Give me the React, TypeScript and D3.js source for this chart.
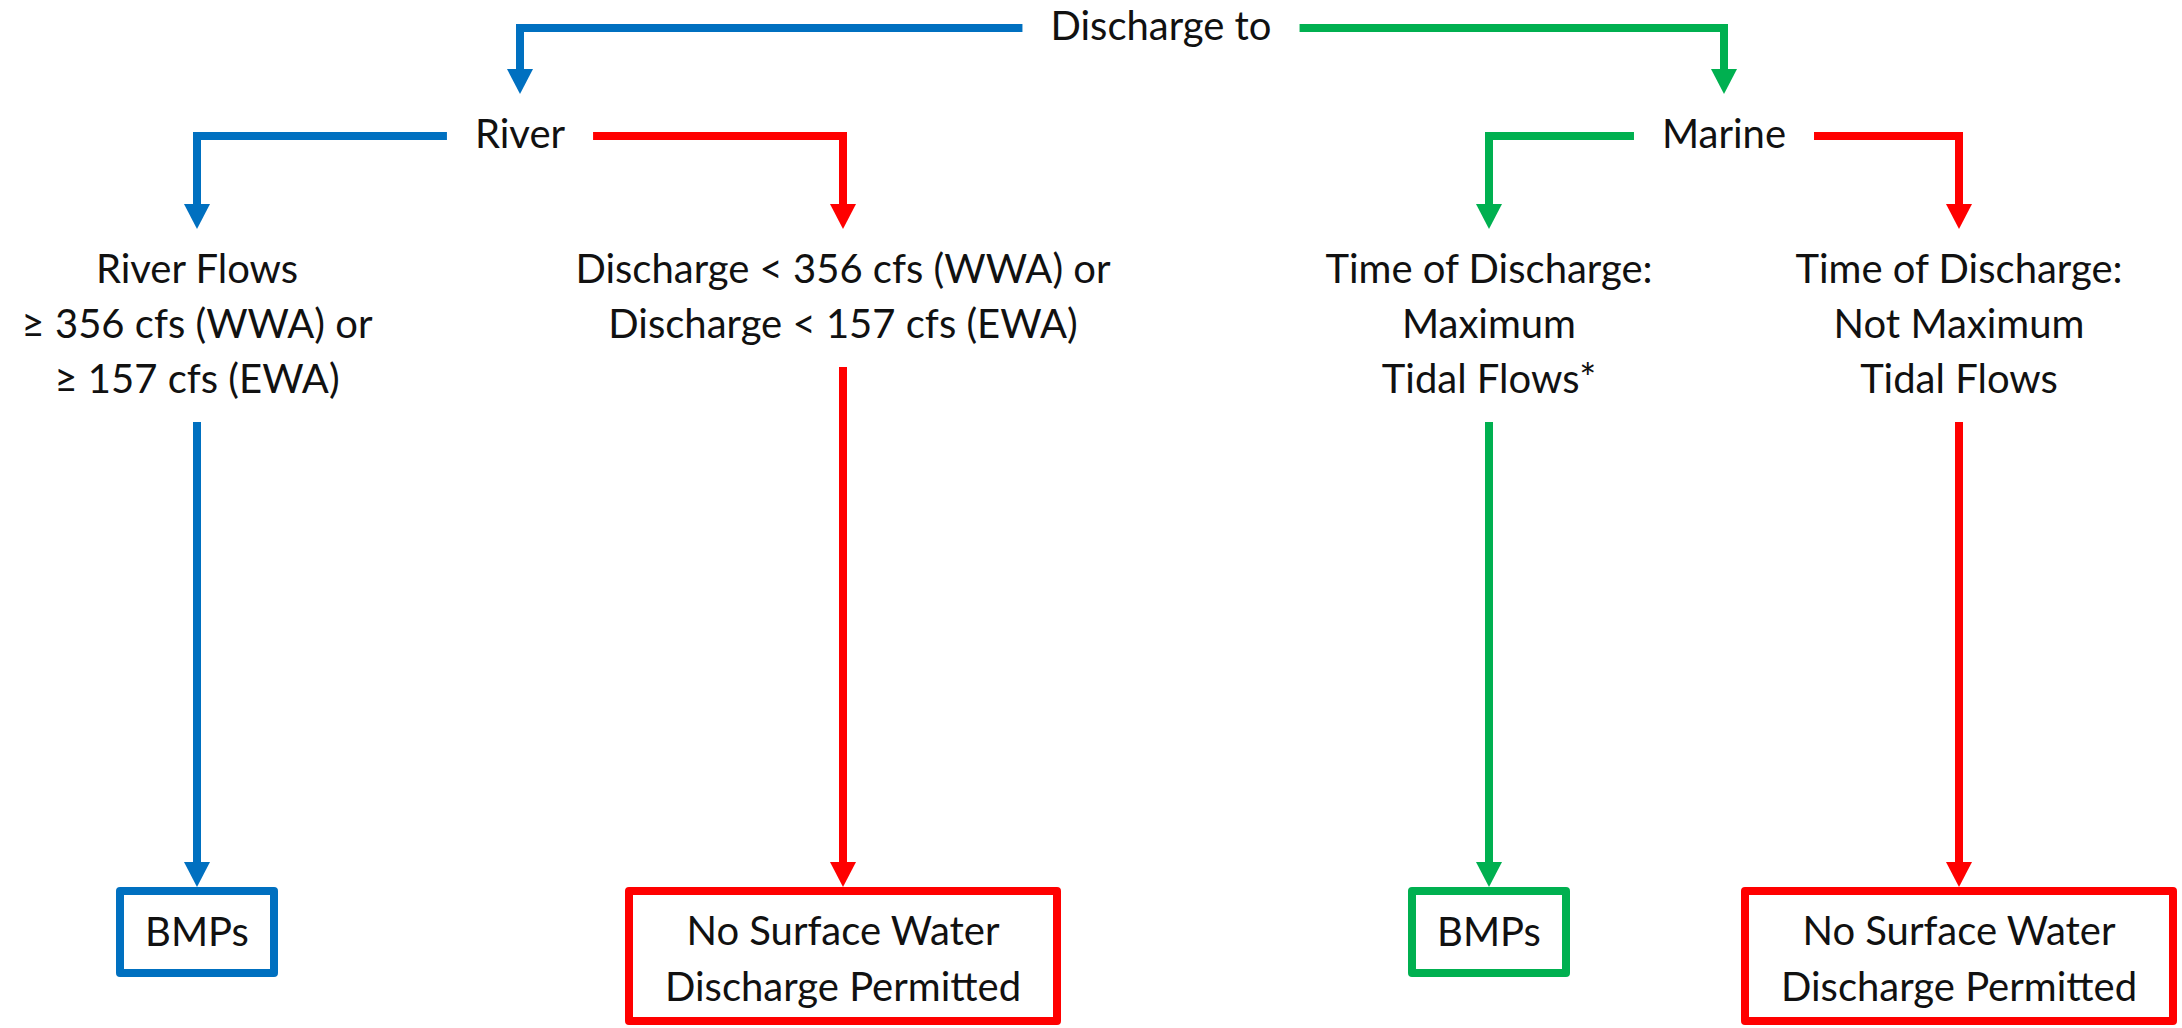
import React, { useEffect, useRef } from "react";
import * as d3 from "d3";

// chart content
const rootLabel = "Discharge to";
const branchLabels = ["River", "Marine"];
const branchColors = ["#0070C0", "#00B050"];
const conditionLabels = [
  ["River Flows", "≥ 356 cfs (WWA) or", "≥ 157 cfs (EWA)"],
  ["Discharge < 356 cfs (WWA) or", "Discharge < 157 cfs (EWA)"],
  ["Time of Discharge:", "Maximum", "Tidal Flows*"],
  ["Time of Discharge:", "Not Maximum", "Tidal Flows"],
];
const conditionParent = [0, 0, 1, 1];
const conditionColors = ["#0070C0", "#FF0000", "#00B050", "#FF0000"];
const outcomeLabels = [
  ["BMPs"],
  ["No Surface Water", "Discharge Permitted"],
  ["BMPs"],
  ["No Surface Water", "Discharge Permitted"],
];

const W = 2182;
const H = 1028;

const App = () => {
  const ref = useRef<SVGSVGElement>(null);

  useEffect(() => {
    const svg = d3.select(ref.current);
    svg.selectAll("*").remove();

    const font = "Lato, 'Open Sans', sans-serif";
    const fs = 40;
    const lh = 55;
    const gap = 28;
    const sw = 8;

    // layout scales
    const colX = d3.scaleOrdinal<number, number>().domain([0, 1, 2, 3]).range([197, 843, 1489, 1959]);
    const rowY = d3.scaleOrdinal<string, number>()
      .domain(["root", "branch", "condition", "outcome"])
      .range([40, 148, 283, 887]);
    const boxW = d3.scaleOrdinal<number, number>().domain([1, 2]).range([162, 436]);
    const boxH = (n: number) => 90 + (n - 1) * 48;

    const branchX = branchLabels.map((_, b) => d3.mean(conditionLabels.map((_, i) => i).filter(i => conditionParent[i] === b), i => colX(i)) as number);
    const rootX = 1161;

    const addText = (x: number, y: number, t: string) =>
      svg.append("text")
        .attr("x", x).attr("y", y)
        .attr("text-anchor", "middle")
        .attr("font-family", font)
        .attr("font-size", fs)
        .attr("fill", "#111")
        .text(t);

    const arrow = (x: number, tip: number, color: string) =>
      svg.append("path")
        .attr("d", `M${x - 13},${tip - 25}L${x + 13},${tip - 25}L${x},${tip}Z`)
        .attr("fill", color);

    const elbow = (x0: number, y0: number, x1: number, tip: number, color: string) => {
      svg.append("path")
        .attr("d", d3.line()([[x0, y0], [x1, y0], [x1, tip - 20]]))
        .attr("fill", "none")
        .attr("stroke", color)
        .attr("stroke-width", sw)
        .attr("stroke-linejoin", "miter");
      arrow(x1, tip, color);
    };

    // root
    const rootT = addText(rootX, rowY("root"), rootLabel);
    const rw = (rootT.node() as SVGTextElement).getComputedTextLength();
    branchLabels.forEach((lab, b) => {
      const yb = rowY("branch");
      const t = addText(branchX[b], yb, lab);
      const bw = (t.node() as SVGTextElement).getComputedTextLength();
      const side = branchX[b] < rootX ? -1 : 1;
      elbow(rootX + side * (rw / 2 + gap), rowY("root") - 12, branchX[b], yb - 54, branchColors[b]);

      conditionLabels.forEach((lines, i) => {
        if (conditionParent[i] !== b) return;
        const cx = colX(i);
        const s = cx < branchX[b] ? -1 : 1;
        elbow(branchX[b] + s * (bw / 2 + gap), yb - 12, cx, rowY("condition") - 54, conditionColors[i]);
      });
    });

    conditionLabels.forEach((lines, i) => {
      const cx = colX(i);
      const y0 = rowY("condition");
      lines.forEach((l, k) => addText(cx, y0 + k * lh, l));
      const start = y0 + (lines.length - 1) * lh + 29;
      const top = rowY("outcome");
      const color = conditionColors[i];
      svg.append("line")
        .attr("x1", cx).attr("x2", cx)
        .attr("y1", start).attr("y2", top - 20)
        .attr("stroke", color).attr("stroke-width", sw);
      arrow(cx, top, color);

      const out = outcomeLabels[i];
      const bw = boxW(out.length);
      const bh = boxH(out.length);
      svg.append("rect")
        .attr("x", cx - bw / 2 + sw / 2).attr("y", top + sw / 2)
        .attr("width", bw - sw).attr("height", bh - sw)
        .attr("fill", "none")
        .attr("stroke", color)
        .attr("stroke-width", sw)
        .attr("stroke-linejoin", "round");
      const ty = top + bh / 2 + 14 - (out.length - 1) * 25;
      out.forEach((l, k) => addText(cx, ty + k * 56, l));
    });
  }, []);

  return (
    <svg
      ref={ref}
      width={W}
      height={H}
      style={{ position: "absolute", left: 0, top: 0, background: "#fff" }}
    />
  );
};

export default App;
